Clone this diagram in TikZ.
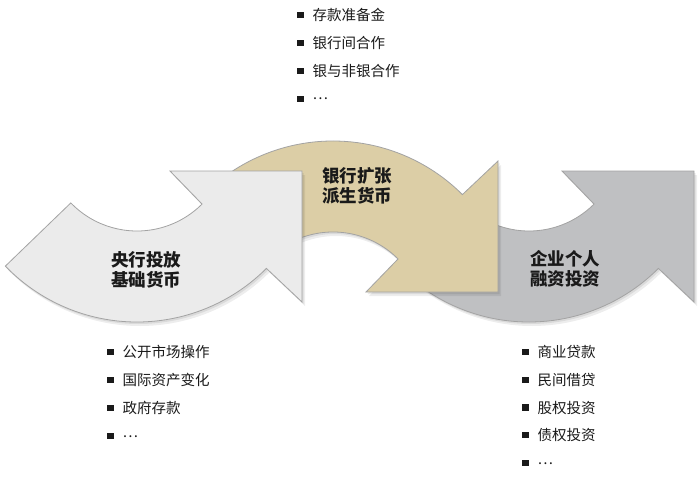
\documentclass[tikz,border=0pt]{standalone}
\usepackage{fontspec}
\newfontfamily\cjk{Noto Sans CJK SC}
\definecolor{lightA}{HTML}{EBEBEB}
\definecolor{tanB}{HTML}{DCCEA6}
\definecolor{grayC}{HTML}{BFC0C2}
\definecolor{edge}{HTML}{A3A3A3}
\definecolor{txt}{HTML}{1A1A1A}
\newcommand\bul{\rule[2.25pt]{6.5pt}{6.5pt}\hspace{9pt}}
\newcommand\mydots{\raisebox{4.5pt}{…}}
\def\arrowone{(224:183) -- (224:92) arc[start angle=224,end angle=315,radius=92] -- (33,-32) -- (165,-32) -- (165,-163) -- (315:183) arc[start angle=315,end angle=224,radius=183] -- cycle}
\def\arrowtwo{(136:183) -- (136:92) arc[start angle=136,end angle=45,radius=92] -- (33,32) -- (165,32) -- (165,163) -- (45:183) arc[start angle=45,end angle=136,radius=183] -- cycle}
\begin{document}
\begin{tikzpicture}[x=1pt,y=1pt,
  arrowshape/.style={draw=edge, line width=0.8pt, line join=miter},
  shadowa/.style={fill=black, opacity=0.07, draw=none, shift={(3,-4)}},
  shadowb/.style={fill=black, opacity=0.08, draw=none, shift={(1.5,-2)}},
  lbl/.style={font=\cjk\bfseries\fontsize{17.5}{20.5}\selectfont, text=txt, align=center, inner sep=0pt},
  item/.style={font=\cjk\fontsize{14.5}{16}\selectfont, text=txt, anchor=base west, inner sep=0pt}]
\useasboundingbox (0,0) rectangle (700,-481);
\fill[white] (0,0) rectangle (700,-481);
% arrow 3 (back)
\begin{scope}[shift={(529,-139)}]
  \fill[shadowa] \arrowone;
  \fill[shadowb] \arrowone;
  \filldraw[arrowshape, fill=grayC] \arrowone;
\end{scope}
% arrow 2
\begin{scope}[shift={(333,-324)}]
  \fill[shadowa] \arrowtwo;
  \fill[shadowb] \arrowtwo;
  \filldraw[arrowshape, fill=tanB] \arrowtwo;
\end{scope}
% arrow 1 (front)
\begin{scope}[shift={(137,-139)}]
  \fill[shadowa] \arrowone;
  \fill[shadowb] \arrowone;
  \filldraw[arrowshape, fill=lightA] \arrowone;
\end{scope}
% labels
\node[lbl] (lblA) at (146,-270) {央行投放\\基础货币};
\node[lbl] (lblB) at (357,-186) {银行扩张\\派生货币};
\node[lbl] (lblC) at (565,-269) {企业个人\\融资投资};
% top list
\node[item] (t1) at (297,-20.5) {\bul 存款准备金};
\node[item] (t2) at (297,-48.5) {\bul 银行间合作};
\node[item] (t3) at (297,-76.5) {\bul 银与非银合作};
\node[item] (t4) at (297,-104.5) {\bul \mydots};
% bottom-left list
\node[item] (a1) at (107,-357.5) {\bul 公开市场操作};
\node[item] (a2) at (107,-385.5) {\bul 国际资产变化};
\node[item] (a3) at (107,-413.5) {\bul 政府存款};
\node[item] (a4) at (107,-441.5) {\bul \mydots};
% bottom-right list
\node[item] (b1) at (522,-357.5) {\bul 商业贷款};
\node[item] (b2) at (522,-385.5) {\bul 民间借贷};
\node[item] (b3) at (522,-413) {\bul 股权投资};
\node[item] (b4) at (522,-440.5) {\bul 债权投资};
\node[item] (b5) at (522,-468.5) {\bul \mydots};
\end{tikzpicture}
\end{document}
